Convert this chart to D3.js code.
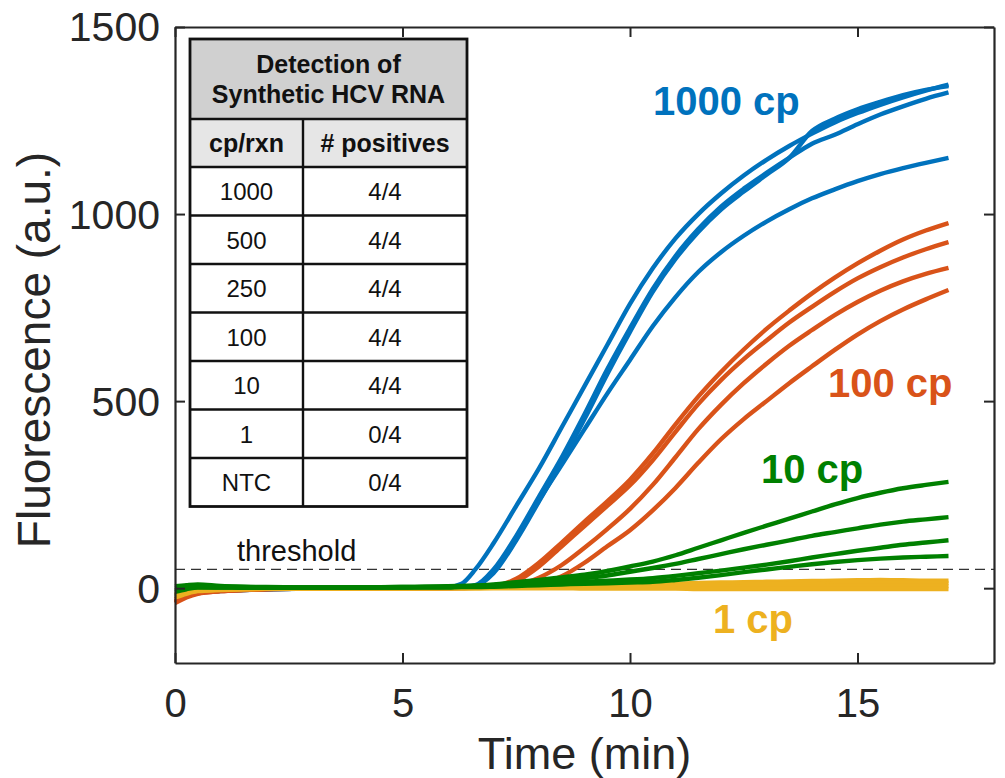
<!DOCTYPE html>
<html>
<head>
<meta charset="utf-8">
<script src="https://cdn.jsdelivr.net/npm/d3@7"></script>
<style>
  html, body { margin: 0; padding: 0; background: #fff; }
  svg { display: block; }
  text { font-family: "Liberation Sans", Arial, Helvetica, sans-serif; }
</style>
</head>
<body>
<svg id="chart" width="1005" height="778"></svg>
<script>
// ---------------- DATA ----------------
const times = [0,0.25,0.5,1,1.5,2,3,4,5,5.5,6,6.3,6.6,7,7.5,8,8.5,9,9.5,10,10.5,11,11.5,12,12.5,13,13.5,14,14.5,15,15.5,16,16.5,17];

const blue1 = [-20,-14,-10,-6,-4,-3,-1,0,0,1,3,12,50,120,220,320,430,540,650,760,855,935,1000,1055,1103,1145,1182,1215,1245,1270,1292,1312,1330,1346];
const blue2 = [-25,-18,-12,-7,-5,-3,-1,0,0,1,2,4,8,50,140,245,350,465,585,695,800,888,960,1020,1068,1110,1150,1188,1212,1240,1266,1288,1308,1325];
const blue3 = [-18,-12,-8,-5,-3,-2,-1,0,0,1,2,3,6,40,128,232,338,452,572,685,792,880,952,1012,1060,1105,1150,1222,1255,1280,1300,1318,1332,1342];
const blue4 = [-22,-16,-12,-8,-5,-3,-1,0,0,1,2,3,6,45,135,235,330,425,520,610,700,778,845,898,942,980,1013,1042,1066,1088,1107,1123,1137,1150];

const orange1 = [-35,-20,-12,-7,-4,-2,-1,0,0,0,1,1,2,5,25,68,122,178,232,290,360,438,512,578,638,693,742,788,830,868,902,932,956,976];
const orange2 = [-40,-25,-15,-8,-5,-3,-1,0,0,0,1,1,2,3,18,58,112,166,220,275,342,418,492,556,612,662,710,752,792,828,858,884,906,925];
const orange3 = [-30,-18,-10,-6,-4,-2,-1,0,0,0,0,1,1,2,8,28,62,108,158,212,276,350,425,490,548,600,648,690,730,765,795,820,840,856];
const orange4 = [-38,-22,-14,-8,-5,-3,-1,0,0,0,0,0,1,1,3,12,32,68,112,155,208,268,335,398,452,500,548,593,637,678,714,745,772,797];

const yellow1 = [-15,-8,-5,-3,-2,-1,0,0,0,1,1,1,2,2,3,4,5,6,7,8,10,12,14,15,16,17,18,19,20,21,22,21,20,20];
const yellow2 = [-20,-12,-7,-4,-2,-1,0,0,0,0,1,1,1,1,2,3,4,4,5,6,7,8,9,10,11,11,12,12,13,13,14,14,14,14];
const yellow3 = [-25,-15,-8,-5,-3,-2,-1,0,0,0,0,0,0,1,1,1,2,2,2,3,3,4,4,4,5,5,5,5,6,6,6,6,6,6];
const yellow4 = [-18,-10,-6,-4,-3,-2,-1,-1,0,0,0,0,0,0,0,0,0,-1,-1,-1,-1,-1,-2,-2,-2,-2,-2,-2,-2,-2,-2,-2,-2,-2];

const green1 = [5,8,10,6,4,3,2,2,3,4,5,6,7,10,16,22,29,36,46,58,71,88,108,128,148,167,186,205,224,241,255,267,276,284];
const green2 = [0,3,5,4,3,2,2,2,3,3,4,5,6,8,12,17,22,27,34,44,54,65,78,91,104,116,128,140,150,160,170,178,184,190];
const green3 = [-5,0,3,2,2,1,1,2,2,3,3,4,4,5,8,11,14,17,20,23,27,33,40,47,55,63,72,82,91,100,108,116,122,128];
const green4 = [-10,-3,2,2,1,1,1,1,2,2,2,3,3,4,6,8,10,12,13,15,17,22,28,35,43,50,57,64,70,75,79,82,84,86];

const groupNames = ["1000 cp", "100 cp", "10 cp", "1 cp"];
const groupColors = ["#0072BD", "#D95319", "#008000", "#EDB120"];
const thresholdValue = 50;

const xTicks = [0, 5, 10, 15];
const yTicks = [0, 500, 1000, 1500];

const tableTitle = ["Detection of", "Synthetic HCV RNA"];
const tableHeader = ["cp/rxn", "# positives"];
const tableCp = ["1000", "500", "250", "100", "10", "1", "NTC"];
const tablePos = ["4/4", "4/4", "4/4", "4/4", "4/4", "0/4", "0/4"];

// ---------------- LAYOUT ----------------
const svg = d3.select("#chart");
const L = 175, R = 994, T = 27, B = 663;
const x = d3.scaleLinear().domain([0, 18]).range([L, R]);
const y = d3.scaleLinear().domain([-200, 1500]).range([B, T]);
const axisColor = "#262626";

svg.append("rect").attr("width", 1005).attr("height", 778).attr("fill", "#fff");

// threshold line
svg.append("line")
  .attr("x1", x(0)).attr("x2", x(18))
  .attr("y1", y(thresholdValue)).attr("y2", y(thresholdValue))
  .attr("stroke", "#333").attr("stroke-width", 1.3)
  .attr("stroke-dasharray", "10,6");

svg.append("text")
  .attr("x", 237).attr("y", 561)
  .attr("font-size", 29).attr("fill", "#111")
  .text("threshold");

// curves
const line = d3.line()
  .x((d, i) => x(times[i]))
  .y(d => y(d))
  .curve(d3.curveMonotoneX);

const groups = [
  { color: groupColors[0], series: [blue4, blue2, blue3, blue1] },
  { color: groupColors[1], series: [orange1, orange2, orange3, orange4] },
  { color: groupColors[3], series: [yellow1, yellow2, yellow3, yellow4] },
  { color: groupColors[2], series: [green1, green2, green3, green4] }
];

const gLines = svg.append("g");
groups.forEach(g => {
  g.series.forEach(s => {
    gLines.append("path")
      .datum(s)
      .attr("d", line)
      .attr("fill", "none")
      .attr("stroke", g.color)
      .attr("stroke-width", 4.4)
      .attr("stroke-linejoin", "round")
      .attr("stroke-linecap", "butt");
  });
});

// group labels
const labelPos = [
  { x: 653, y: 115 },
  { x: 828, y: 397 },
  { x: 761, y: 483 },
  { x: 713, y: 633 }
];
groupNames.forEach((n, i) => {
  svg.append("text")
    .attr("x", labelPos[i].x).attr("y", labelPos[i].y)
    .attr("font-size", 40).attr("font-weight", "bold")
    .attr("fill", groupColors[i])
    .text(n);
});

// axes
function styleAxis(g) {
  g.select(".domain").attr("stroke", axisColor).attr("stroke-width", 2.2);
  g.selectAll(".tick line").attr("stroke", axisColor).attr("stroke-width", 2);
  g.selectAll(".tick text").attr("fill", axisColor).attr("font-family", "'Liberation Sans', Arial, sans-serif");
}

const xAxis = svg.append("g").attr("transform", `translate(0,${B})`)
  .call(d3.axisBottom(x).tickValues(xTicks).tickSizeInner(-10).tickSizeOuter(0).tickPadding(26).tickFormat(d3.format("d")));
xAxis.selectAll(".tick text").attr("font-size", 40);
styleAxis(xAxis);

const xAxisTop = svg.append("g").attr("transform", `translate(0,${T})`)
  .call(d3.axisTop(x).tickValues(xTicks).tickSizeInner(-10).tickSizeOuter(0).tickFormat(""));
styleAxis(xAxisTop);

const yAxis = svg.append("g").attr("transform", `translate(${L},0)`)
  .call(d3.axisLeft(y).tickValues(yTicks).tickSizeInner(-10).tickSizeOuter(0).tickPadding(15).tickFormat(d3.format("d")));
yAxis.selectAll(".tick text").attr("font-size", 41).attr("dy", "0.34em");
styleAxis(yAxis);

const yAxisRight = svg.append("g").attr("transform", `translate(${R},0)`)
  .call(d3.axisRight(y).tickValues(yTicks).tickSizeInner(-10).tickSizeOuter(0).tickFormat(""));
styleAxis(yAxisRight);

// axis titles
svg.append("text")
  .attr("x", x(9)).attr("y", 769)
  .attr("text-anchor", "middle")
  .attr("font-size", 45).attr("fill", axisColor)
  .text("Time (min)");

svg.append("text")
  .attr("transform", `translate(50,${(T + B) / 2 + 5}) rotate(-90)`)
  .attr("text-anchor", "middle")
  .attr("font-size", 46).attr("fill", axisColor)
  .text("Fluorescence (a.u.)");

// table
const tL = 190, tR = 467, tMid = 303, tTop = 39, h1B = 119, h2B = 167, rowH = 48.5;
const tBot = h2B + rowH * tableCp.length;
const tg = svg.append("g");
tg.append("rect").attr("x", tL).attr("y", tTop).attr("width", tR - tL).attr("height", tBot - tTop).attr("fill", "#fff");
tg.append("rect").attr("x", tL).attr("y", tTop).attr("width", tR - tL).attr("height", h1B - tTop).attr("fill", "#d0d0d0");
tg.append("rect").attr("x", tL).attr("y", h1B).attr("width", tR - tL).attr("height", h2B - h1B).attr("fill", "#e6e6e6");

const lineW = 2.4;
[h1B, h2B].concat(tableCp.map((d, i) => h2B + rowH * (i + 1)).slice(0, -1)).forEach(yy => {
  tg.append("line").attr("x1", tL).attr("x2", tR).attr("y1", yy).attr("y2", yy)
    .attr("stroke", "#111").attr("stroke-width", lineW);
});
tg.append("line").attr("x1", tMid).attr("x2", tMid).attr("y1", h1B).attr("y2", tBot)
  .attr("stroke", "#111").attr("stroke-width", lineW);
tg.append("rect").attr("x", tL).attr("y", tTop).attr("width", tR - tL).attr("height", tBot - tTop)
  .attr("fill", "none").attr("stroke", "#111").attr("stroke-width", 2.8);

const cx = (tL + tR) / 2, c1 = (tL + tMid) / 2, c2 = (tMid + tR) / 2;
tg.append("text").attr("x", cx).attr("y", 73).attr("text-anchor", "middle")
  .attr("font-size", 25).attr("font-weight", "bold").attr("fill", "#111").text(tableTitle[0]);
tg.append("text").attr("x", cx).attr("y", 103).attr("text-anchor", "middle")
  .attr("font-size", 25).attr("font-weight", "bold").attr("fill", "#111").text(tableTitle[1]);
tg.append("text").attr("x", c1).attr("y", 152).attr("text-anchor", "middle")
  .attr("font-size", 25).attr("font-weight", "bold").attr("fill", "#111").text(tableHeader[0]);
tg.append("text").attr("x", c2).attr("y", 152).attr("text-anchor", "middle")
  .attr("font-size", 25).attr("font-weight", "bold").attr("fill", "#111").text(tableHeader[1]);
tableCp.forEach((d, i) => {
  const yc = h2B + rowH * i + rowH / 2 + 9;
  tg.append("text").attr("x", c1).attr("y", yc).attr("text-anchor", "middle")
    .attr("font-size", 24).attr("fill", "#111").text(d);
  tg.append("text").attr("x", c2).attr("y", yc).attr("text-anchor", "middle")
    .attr("font-size", 24).attr("fill", "#111").text(tablePos[i]);
});
</script>
</body>
</html>
